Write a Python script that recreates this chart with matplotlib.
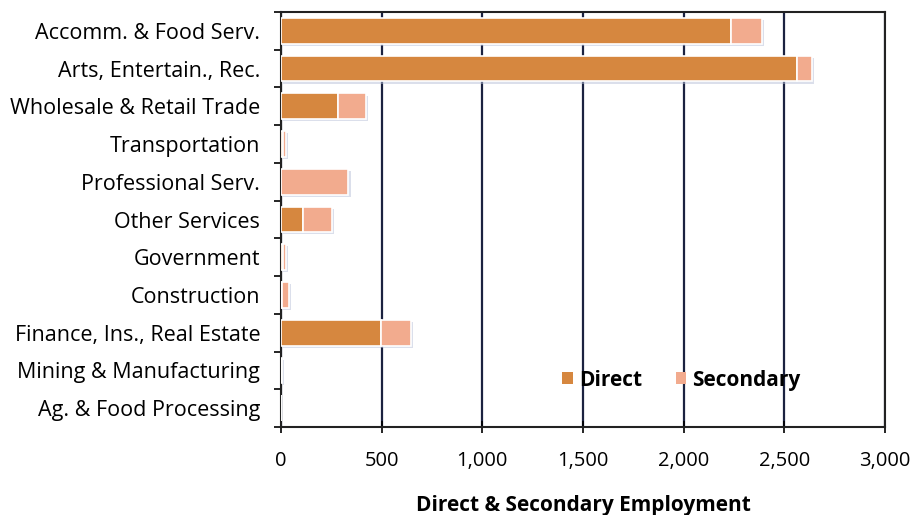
import matplotlib
matplotlib.use("Agg")
import matplotlib.pyplot as plt
import numpy as np
from matplotlib import patheffects as pe
from matplotlib.ticker import FuncFormatter, FixedLocator

categories = ["Accomm. & Food Serv.", "Arts, Entertain., Rec.", "Wholesale & Retail Trade",
              "Transportation", "Professional Serv.", "Other Services", "Government",
              "Construction", "Finance, Ins., Real Estate", "Mining & Manufacturing",
              "Ag. & Food Processing"]
direct = [2235, 2562, 282, 8, 0, 107, 10, 5, 495, 0, 0]
secondary = [153, 75, 138, 15, 335, 146, 13, 35, 150, 6, 0]

c_direct = "#D6873F"
c_second = "#F2AB8E"

plt.rcParams['font.family'] = ['Open Sans', 'DejaVu Sans']

fig = plt.figure(figsize=(9.16, 5.15), dpi=100)
ax = fig.add_axes([281/916, 1-427/515, 604/916, 415/515])

y = np.arange(len(categories))
shadow = [pe.SimplePatchShadow(offset=(1.5, -1.5), shadow_rgbFace="#b8c0d8", alpha=0.5), pe.Normal()]
b1 = ax.barh(y, direct, height=0.68, color=c_direct, edgecolor="white", linewidth=1.2,
             label="Direct", zorder=3, path_effects=shadow)
b2 = ax.barh(y, secondary, left=direct, height=0.68, color=c_second, edgecolor="white",
             linewidth=1.2, label="Secondary", zorder=3, path_effects=shadow)

ax.set_xlim(0, 3000)
ax.set_ylim(len(categories)-0.5, -0.5)
ax.set_xticks(np.arange(0, 3001, 500))
ax.xaxis.set_major_formatter(FuncFormatter(lambda v, p: f"{int(v):,}"))
ax.set_yticks(y)
ax.set_yticklabels(categories)
ax.yaxis.set_minor_locator(FixedLocator(np.arange(-0.5, len(categories), 1.0)))
ax.tick_params(axis='y', which='major', length=0, pad=15, labelsize=15.5)
ax.tick_params(axis='y', which='minor', length=5, width=1.2, direction='out')
ax.tick_params(axis='x', which='major', length=9, width=1.2, direction='inout', labelsize=14.5, pad=13)

ax.grid(axis='x', color="#1b2240", linewidth=1.6, zorder=1)
ax.set_axisbelow(True)
for s in ax.spines.values():
    s.set_linewidth(1.5)
    s.set_color("#222222")

ax.set_xlabel("Direct & Secondary Employment", fontsize=15, fontweight='bold', labelpad=17)

leg = ax.legend(loc='center left', bbox_to_anchor=(0.435, 0.113), ncol=2, frameon=False,
                handlelength=0.5, handleheight=0.5, handletextpad=0.3, columnspacing=1.6,
                prop={'size': 15, 'weight': 'bold'})
for h in leg.legend_handles:
    h.set_path_effects([])
    h.set_linewidth(0)

fig.savefig("out.png", dpi=100, facecolor="white")
